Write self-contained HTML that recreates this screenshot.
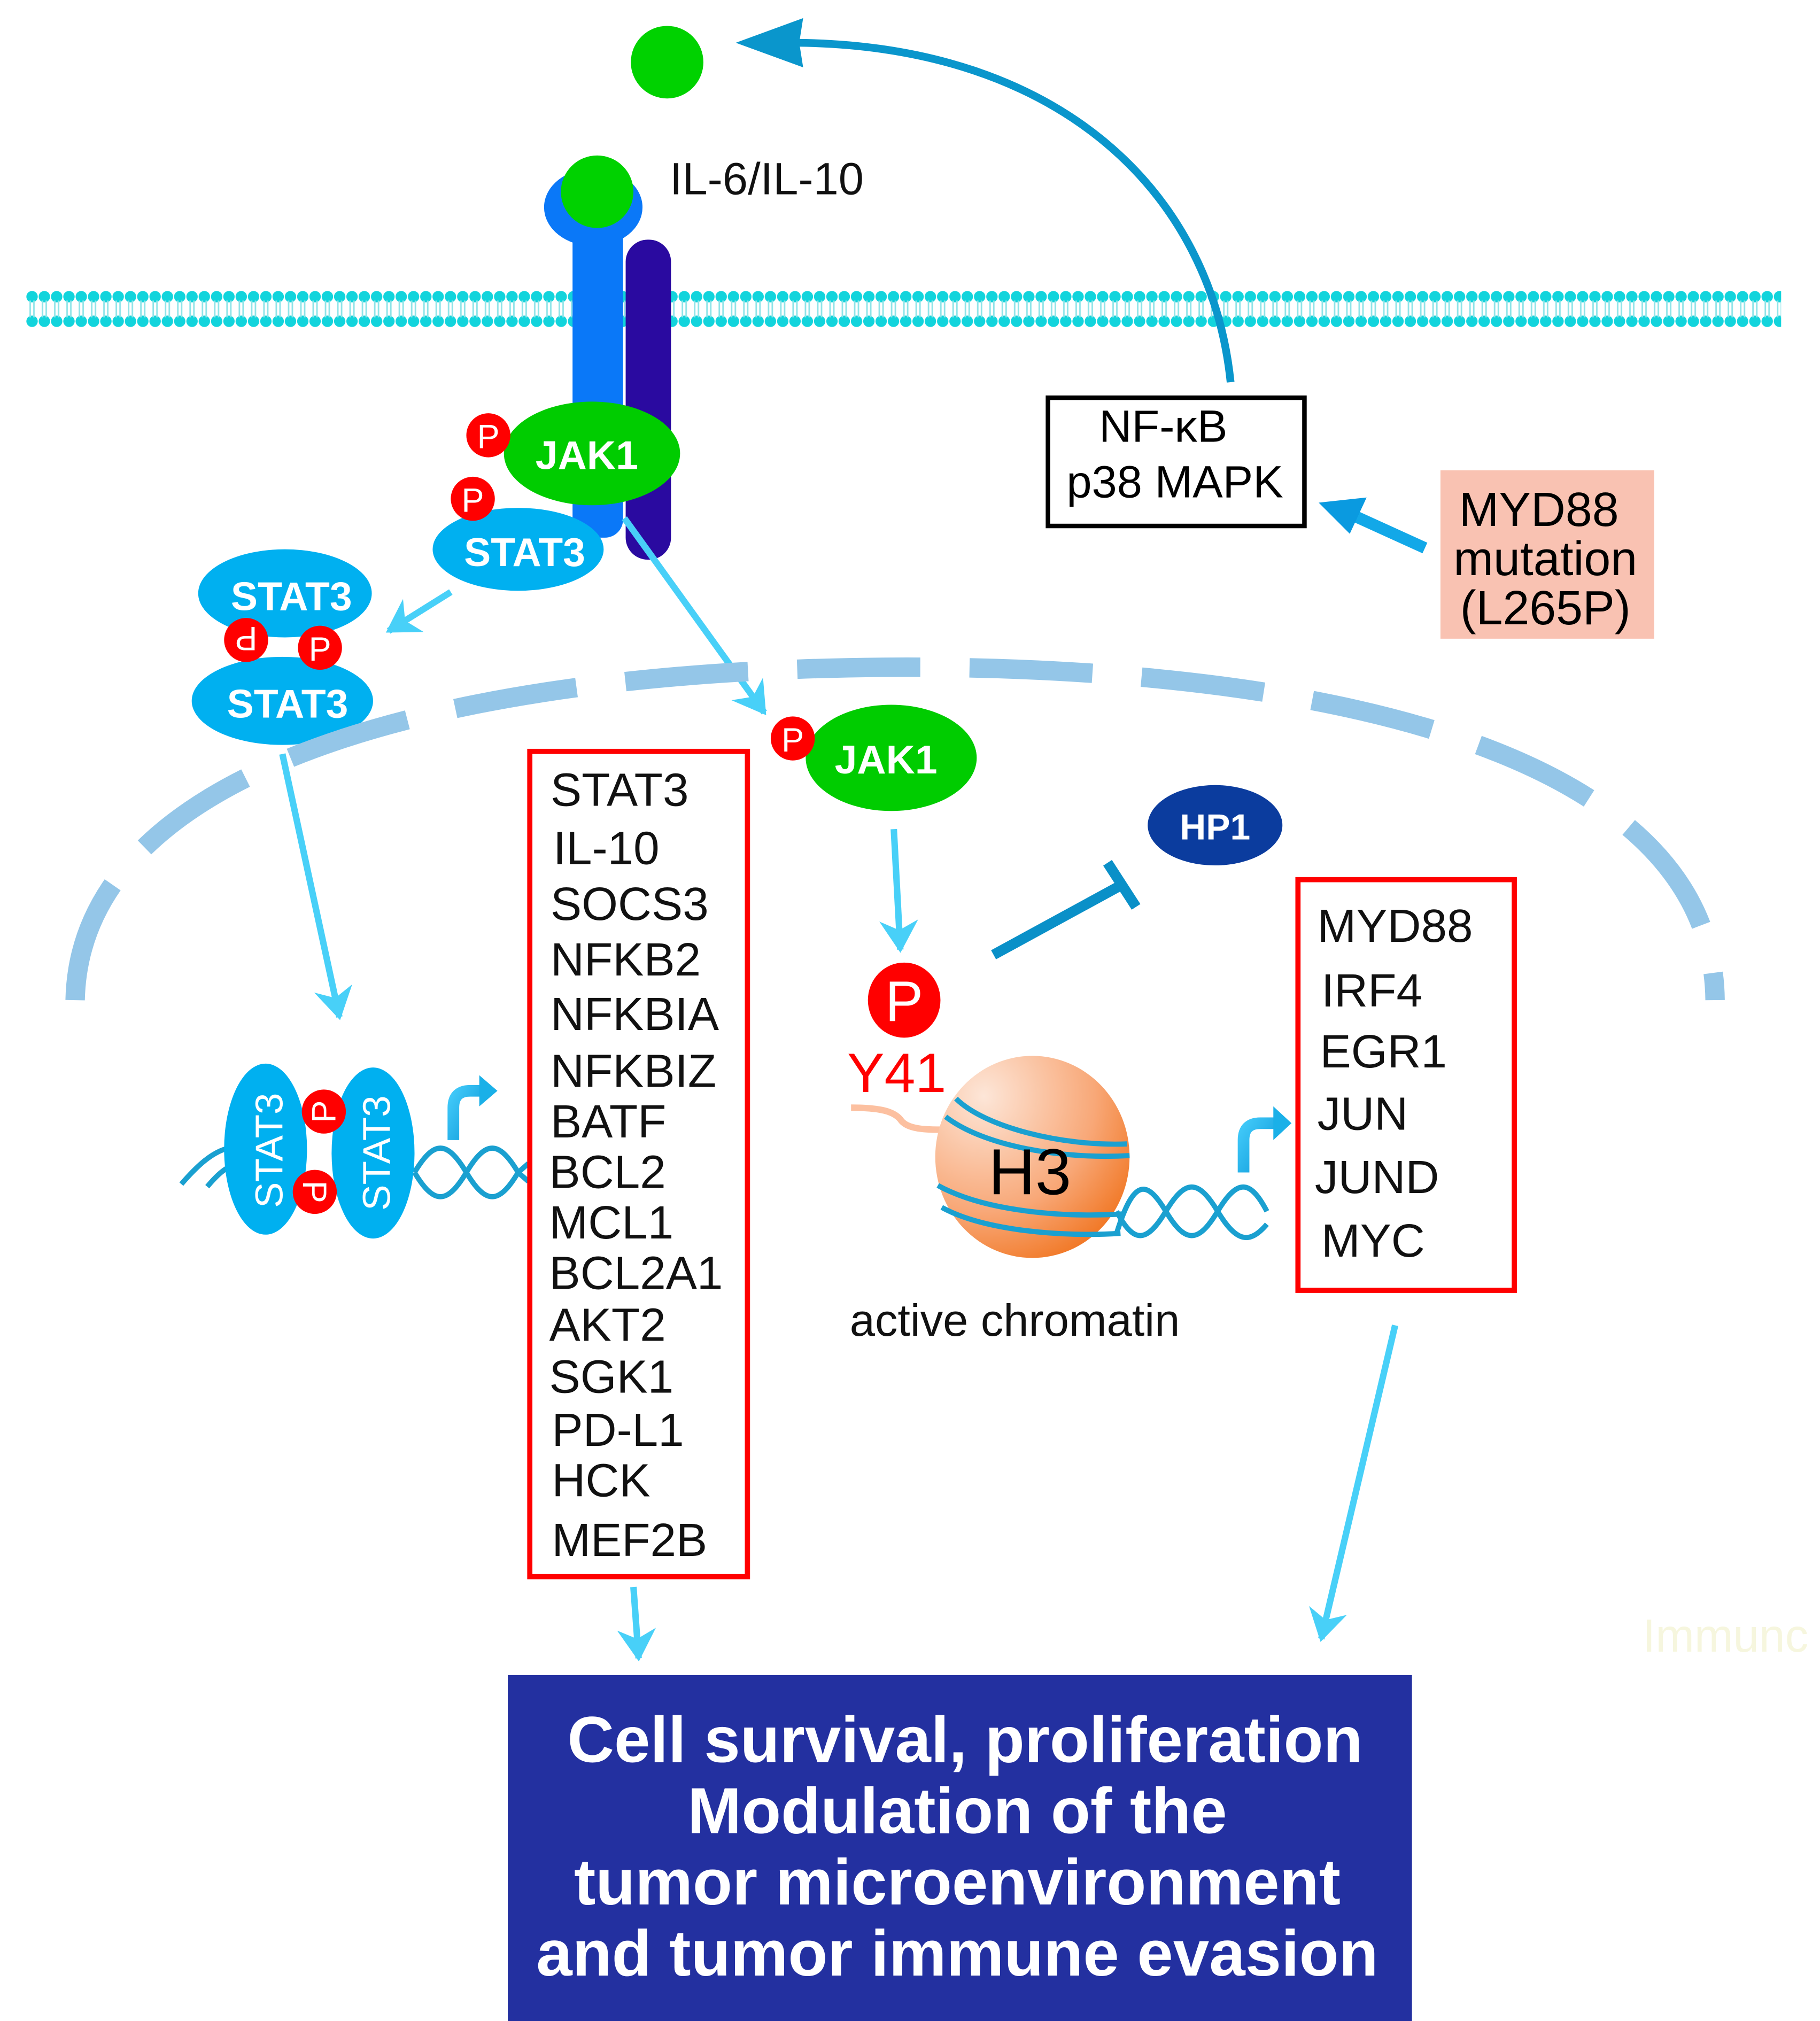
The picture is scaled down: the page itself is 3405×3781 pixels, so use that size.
<!DOCTYPE html>
<html><head><meta charset="utf-8"><style>
html,body{margin:0;padding:0;background:#fff;}
svg{display:block;}
text{font-family:"Liberation Sans",Arial,sans-serif;}
</style></head><body>
<svg width="3405" height="3781" viewBox="0 0 1405 1560" preserveAspectRatio="none" xmlns="http://www.w3.org/2000/svg">
<defs>
<pattern id="mem" x="20" y="222" width="9.5" height="34" patternUnits="userSpaceOnUse">
<circle cx="4.75" cy="7" r="4.4" fill="#12d4dc"/>
<circle cx="4.75" cy="26" r="4.4" fill="#12d4dc"/>
<path d="M3.3 10 L3.3 23 M6.2 10 L6.2 23" stroke="#8ee4e8" stroke-width="1.2"/>
</pattern>
<marker id="la" markerWidth="6" markerHeight="6" refX="4.5" refY="3" orient="auto" markerUnits="strokeWidth">
<path d="M0,0 L5,3 L0,6 L1.5,3 Z" fill="#48d0f8"/>
</marker>
<radialGradient id="h3g" cx="0.25" cy="0.2" r="0.95">
<stop offset="0" stop-color="#fde6d8"/>
<stop offset="0.6" stop-color="#f8a878"/>
<stop offset="1" stop-color="#f07018"/>
</radialGradient>
<linearGradient id="prom" x1="0" y1="0" x2="1" y2="1">
<stop offset="0" stop-color="#40c8f8"/><stop offset="1" stop-color="#0a98d8"/>
</linearGradient>
</defs>

<!-- membrane -->
<rect x="20" y="222" width="1355" height="34" fill="url(#mem)"/>

<!-- feedback arc arrow -->
<path d="M950,295 C 935,150 820,35 615,33" fill="none" stroke="#0a96cc" stroke-width="6"/>
<path d="M568,33 L620,14 L617,33 L620,52 Z" fill="#0a96cc"/>

<!-- ligand -->
<circle cx="515" cy="48" r="28" fill="#00d200"/>

<!-- receptor -->
<rect x="483" y="185" width="35" height="247" rx="17" fill="#2a0aa0"/>
<ellipse cx="458" cy="160" rx="38" ry="30" fill="#0a78f8"/>
<rect x="442" y="165" width="39" height="250" rx="14" fill="#0a78f8"/>
<circle cx="461" cy="148" r="28" fill="#00d200"/>
<text x="517" y="150" font-size="35" fill="#111">IL-6/IL-10</text>

<!-- STAT3 + JAK1 at receptor -->
<ellipse cx="400" cy="424" rx="66" ry="32" fill="#00b0f0"/>
<text x="405" y="437" font-size="31" font-weight="bold" fill="#fff" text-anchor="middle">STAT3</text>
<ellipse cx="457" cy="350" rx="68" ry="40" fill="#00cc00"/>
<text x="453" y="362" font-size="31" font-weight="bold" fill="#fff" text-anchor="middle">JAK1</text>
<circle cx="377" cy="336" r="17" fill="#f00"/><text x="377" y="346" font-size="26" fill="#fff" text-anchor="middle">P</text>
<circle cx="365" cy="385" r="17" fill="#f00"/><text x="365" y="395" font-size="26" fill="#fff" text-anchor="middle">P</text>

<!-- arrows from receptor -->
<line x1="348" y1="457" x2="300" y2="487" stroke="#48d0f8" stroke-width="5" marker-end="url(#la)"/>
<line x1="482" y1="400" x2="590" y2="550" stroke="#48d0f8" stroke-width="5" marker-end="url(#la)"/>

<!-- STAT3 dimer -->
<ellipse cx="220" cy="458" rx="67" ry="34" fill="#00b0f0"/>
<text x="225" y="471" font-size="31" font-weight="bold" fill="#fff" text-anchor="middle">STAT3</text>
<ellipse cx="218" cy="541" rx="70" ry="34" fill="#00b0f0"/>
<text x="222" y="554" font-size="31" font-weight="bold" fill="#fff" text-anchor="middle">STAT3</text>
<circle cx="190" cy="494" r="17" fill="#f00"/><text x="190" y="504" font-size="26" fill="#fff" text-anchor="middle" transform="rotate(180 190 494)">P</text>
<circle cx="247" cy="500" r="17" fill="#f00"/><text x="247" y="510" font-size="26" fill="#fff" text-anchor="middle">P</text>

<!-- nucleus envelope -->
<path d="M58,772 C 62,580 380,515 700,515 C 1020,515 1322,580 1324,772" fill="none" stroke="#94c6e8" stroke-width="15" stroke-dasharray="95 38"/>

<!-- arrow dimer to DNA -->
<line x1="218" y1="582" x2="262" y2="785" stroke="#48d0f8" stroke-width="5" marker-end="url(#la)"/>

<!-- nuclear JAK1 -->
<ellipse cx="688" cy="585" rx="66" ry="41" fill="#00cc00"/>
<text x="684" y="597" font-size="31" font-weight="bold" fill="#fff" text-anchor="middle">JAK1</text>
<circle cx="612" cy="570" r="17" fill="#f00"/><text x="612" y="580" font-size="26" fill="#fff" text-anchor="middle">P</text>
<line x1="690" y1="640" x2="695" y2="733" stroke="#48d0f8" stroke-width="5" marker-end="url(#la)"/>

<!-- P Y41 -->
<ellipse cx="698" cy="772" rx="28" ry="29" fill="#f00"/>
<text x="698" y="788" font-size="44" fill="#fff" text-anchor="middle">P</text>
<text x="654" y="843" font-size="43" fill="#f00">Y41</text>

<!-- inhibition -->
<line x1="767" y1="737" x2="866" y2="683" stroke="#0a90c8" stroke-width="8"/>
<line x1="855" y1="666" x2="877" y2="700" stroke="#0a90c8" stroke-width="8"/>

<!-- HP1 -->
<ellipse cx="938" cy="637" rx="52" ry="31" fill="#0b3c9e"/>
<text x="938" y="648" font-size="28" font-weight="bold" fill="#fff" text-anchor="middle">HP1</text>

<!-- nucleosome -->
<path d="M657,855 C 680,855 690,858 695,864 C 700,872 715,872 730,872" fill="none" stroke="#fcc0a0" stroke-width="5"/>
<ellipse cx="797" cy="893" rx="75" ry="78" fill="url(#h3g)"/>
<g fill="none" stroke="#1aa0d0" stroke-width="4">
<path d="M738,848 C 760,870 820,885 870,883"/>
<path d="M730,862 C 760,885 820,895 872,892"/>
<path d="M724,915 C 760,935 820,940 868,937"/>
<path d="M727,932 C 760,950 820,955 865,952"/>
</g>
<text x="795" y="922" font-size="50" fill="#000" text-anchor="middle">H3</text>
<path d="M862,952 C 875,910 885,910 900,935 C 915,960 925,960 940,935 C 955,910 965,910 978,935" fill="none" stroke="#1aa0d0" stroke-width="4"/>
<path d="M862,935 C 875,960 885,960 900,935 C 915,910 925,910 940,935 C 955,960 965,960 978,945" fill="none" stroke="#1aa0d0" stroke-width="4"/>
<path d="M960,905 L960,880 Q960,867 973,867 L985,867" fill="none" stroke="url(#prom)" stroke-width="9"/>
<path d="M983,854 L997,867 L983,880 Z" fill="#1ab0e8"/>
<text x="656" y="1031" font-size="35" fill="#111">active chromatin</text>

<!-- STAT3 dimer on DNA -->
<path d="M140,914 C 165,885 180,880 205,890 M160,916 C 175,898 185,894 205,900" fill="none" stroke="#1aa0d0" stroke-width="4"/>
<path d="M320,905 C 335,880 345,880 360,905 C 375,930 385,930 400,905 L408,898 M320,905 C 335,930 345,930 360,905 C 375,880 385,880 400,905 L408,912" fill="none" stroke="#1aa0d0" stroke-width="4"/>
<ellipse cx="205" cy="887" rx="32" ry="66" fill="#00b0f0"/>
<ellipse cx="288" cy="890" rx="32" ry="66" fill="#00b0f0"/>
<text transform="translate(218,888) rotate(-90)" font-size="30" fill="#fff" text-anchor="middle">STAT3</text>
<text transform="translate(301,890) rotate(-90)" font-size="30" fill="#fff" text-anchor="middle">STAT3</text>
<circle cx="250" cy="858" r="17" fill="#f00"/><text transform="translate(259,858) rotate(-90)" font-size="26" fill="#fff" text-anchor="middle">P</text>
<circle cx="243" cy="920" r="17" fill="#f00"/><text transform="translate(234,920) rotate(90)" font-size="26" fill="#fff" text-anchor="middle">P</text>
<path d="M350,880 L350,855 Q350,842 363,842 L372,842" fill="none" stroke="url(#prom)" stroke-width="9"/>
<path d="M370,830 L384,842 L370,854 Z" fill="#1ab0e8"/>

<!-- gene box 1 -->
<rect x="409" y="580" width="168" height="637" fill="none" stroke="#f00" stroke-width="4"/>
<g font-size="36" fill="#111">
<text x="425" y="622">STAT3</text>
<text x="427" y="667">IL-10</text>
<text x="425" y="710">SOCS3</text>
<text x="425" y="753">NFKB2</text>
<text x="425" y="795">NFKBIA</text>
<text x="425" y="839">NFKBIZ</text>
<text x="425" y="878">BATF</text>
<text x="424" y="917">BCL2</text>
<text x="424" y="956">MCL1</text>
<text x="424" y="995">BCL2A1</text>
<text x="424" y="1035">AKT2</text>
<text x="424" y="1075">SGK1</text>
<text x="426" y="1116">PD-L1</text>
<text x="426" y="1155">HCK</text>
<text x="426" y="1201">MEF2B</text>
</g>

<!-- gene box 2 -->
<rect x="1002" y="679" width="167" height="317" fill="none" stroke="#f00" stroke-width="4"/>
<g font-size="36" fill="#111">
<text x="1017" y="727">MYD88</text>
<text x="1020" y="777">IRF4</text>
<text x="1019" y="824">EGR1</text>
<text x="1017" y="872">JUN</text>
<text x="1015" y="921">JUND</text>
<text x="1020" y="970">MYC</text>
</g>

<!-- NF-kB box -->
<rect x="809" y="307" width="198" height="99" fill="none" stroke="#000" stroke-width="3.5"/>
<text x="898" y="341" font-size="35" fill="#000" text-anchor="middle">NF-κB</text>
<text x="907" y="384" font-size="35" fill="#000" text-anchor="middle">p38 MAPK</text>

<!-- MYD88 mutation box -->
<rect x="1112" y="363" width="165" height="130" fill="#f9c2b2"/>
<g font-size="37" fill="#000" text-anchor="middle">
<text x="1188" y="406">MYD88</text>
<text x="1193" y="444">mutation</text>
<text x="1193" y="482">(L265P)</text>
</g>
<line x1="1100" y1="423" x2="1045" y2="398" stroke="#12a8e8" stroke-width="9"/>
<path d="M1018,388 L1055,384 L1042,412 Z" fill="#0a9ae0"/>

<!-- arrows to bottom box -->
<line x1="489" y1="1225" x2="493" y2="1280" stroke="#48d0f8" stroke-width="5" marker-end="url(#la)"/>
<line x1="1077" y1="1023" x2="1020" y2="1265" stroke="#48d0f8" stroke-width="5" marker-end="url(#la)"/>

<text x="1268" y="1275" font-size="36" fill="#f6f6de">Immunc</text>

<!-- bottom box -->
<rect x="392" y="1293" width="698" height="268" fill="#2330a0"/>
<g font-size="50" font-weight="bold" fill="#fff" text-anchor="middle">
<text x="745" y="1360">Cell survival, proliferation</text>
<text x="739" y="1415">Modulation of the</text>
<text x="739" y="1470">tumor microenvironment</text>
<text x="739" y="1525">and tumor immune evasion</text>
</g>
</svg>
</body></html>
